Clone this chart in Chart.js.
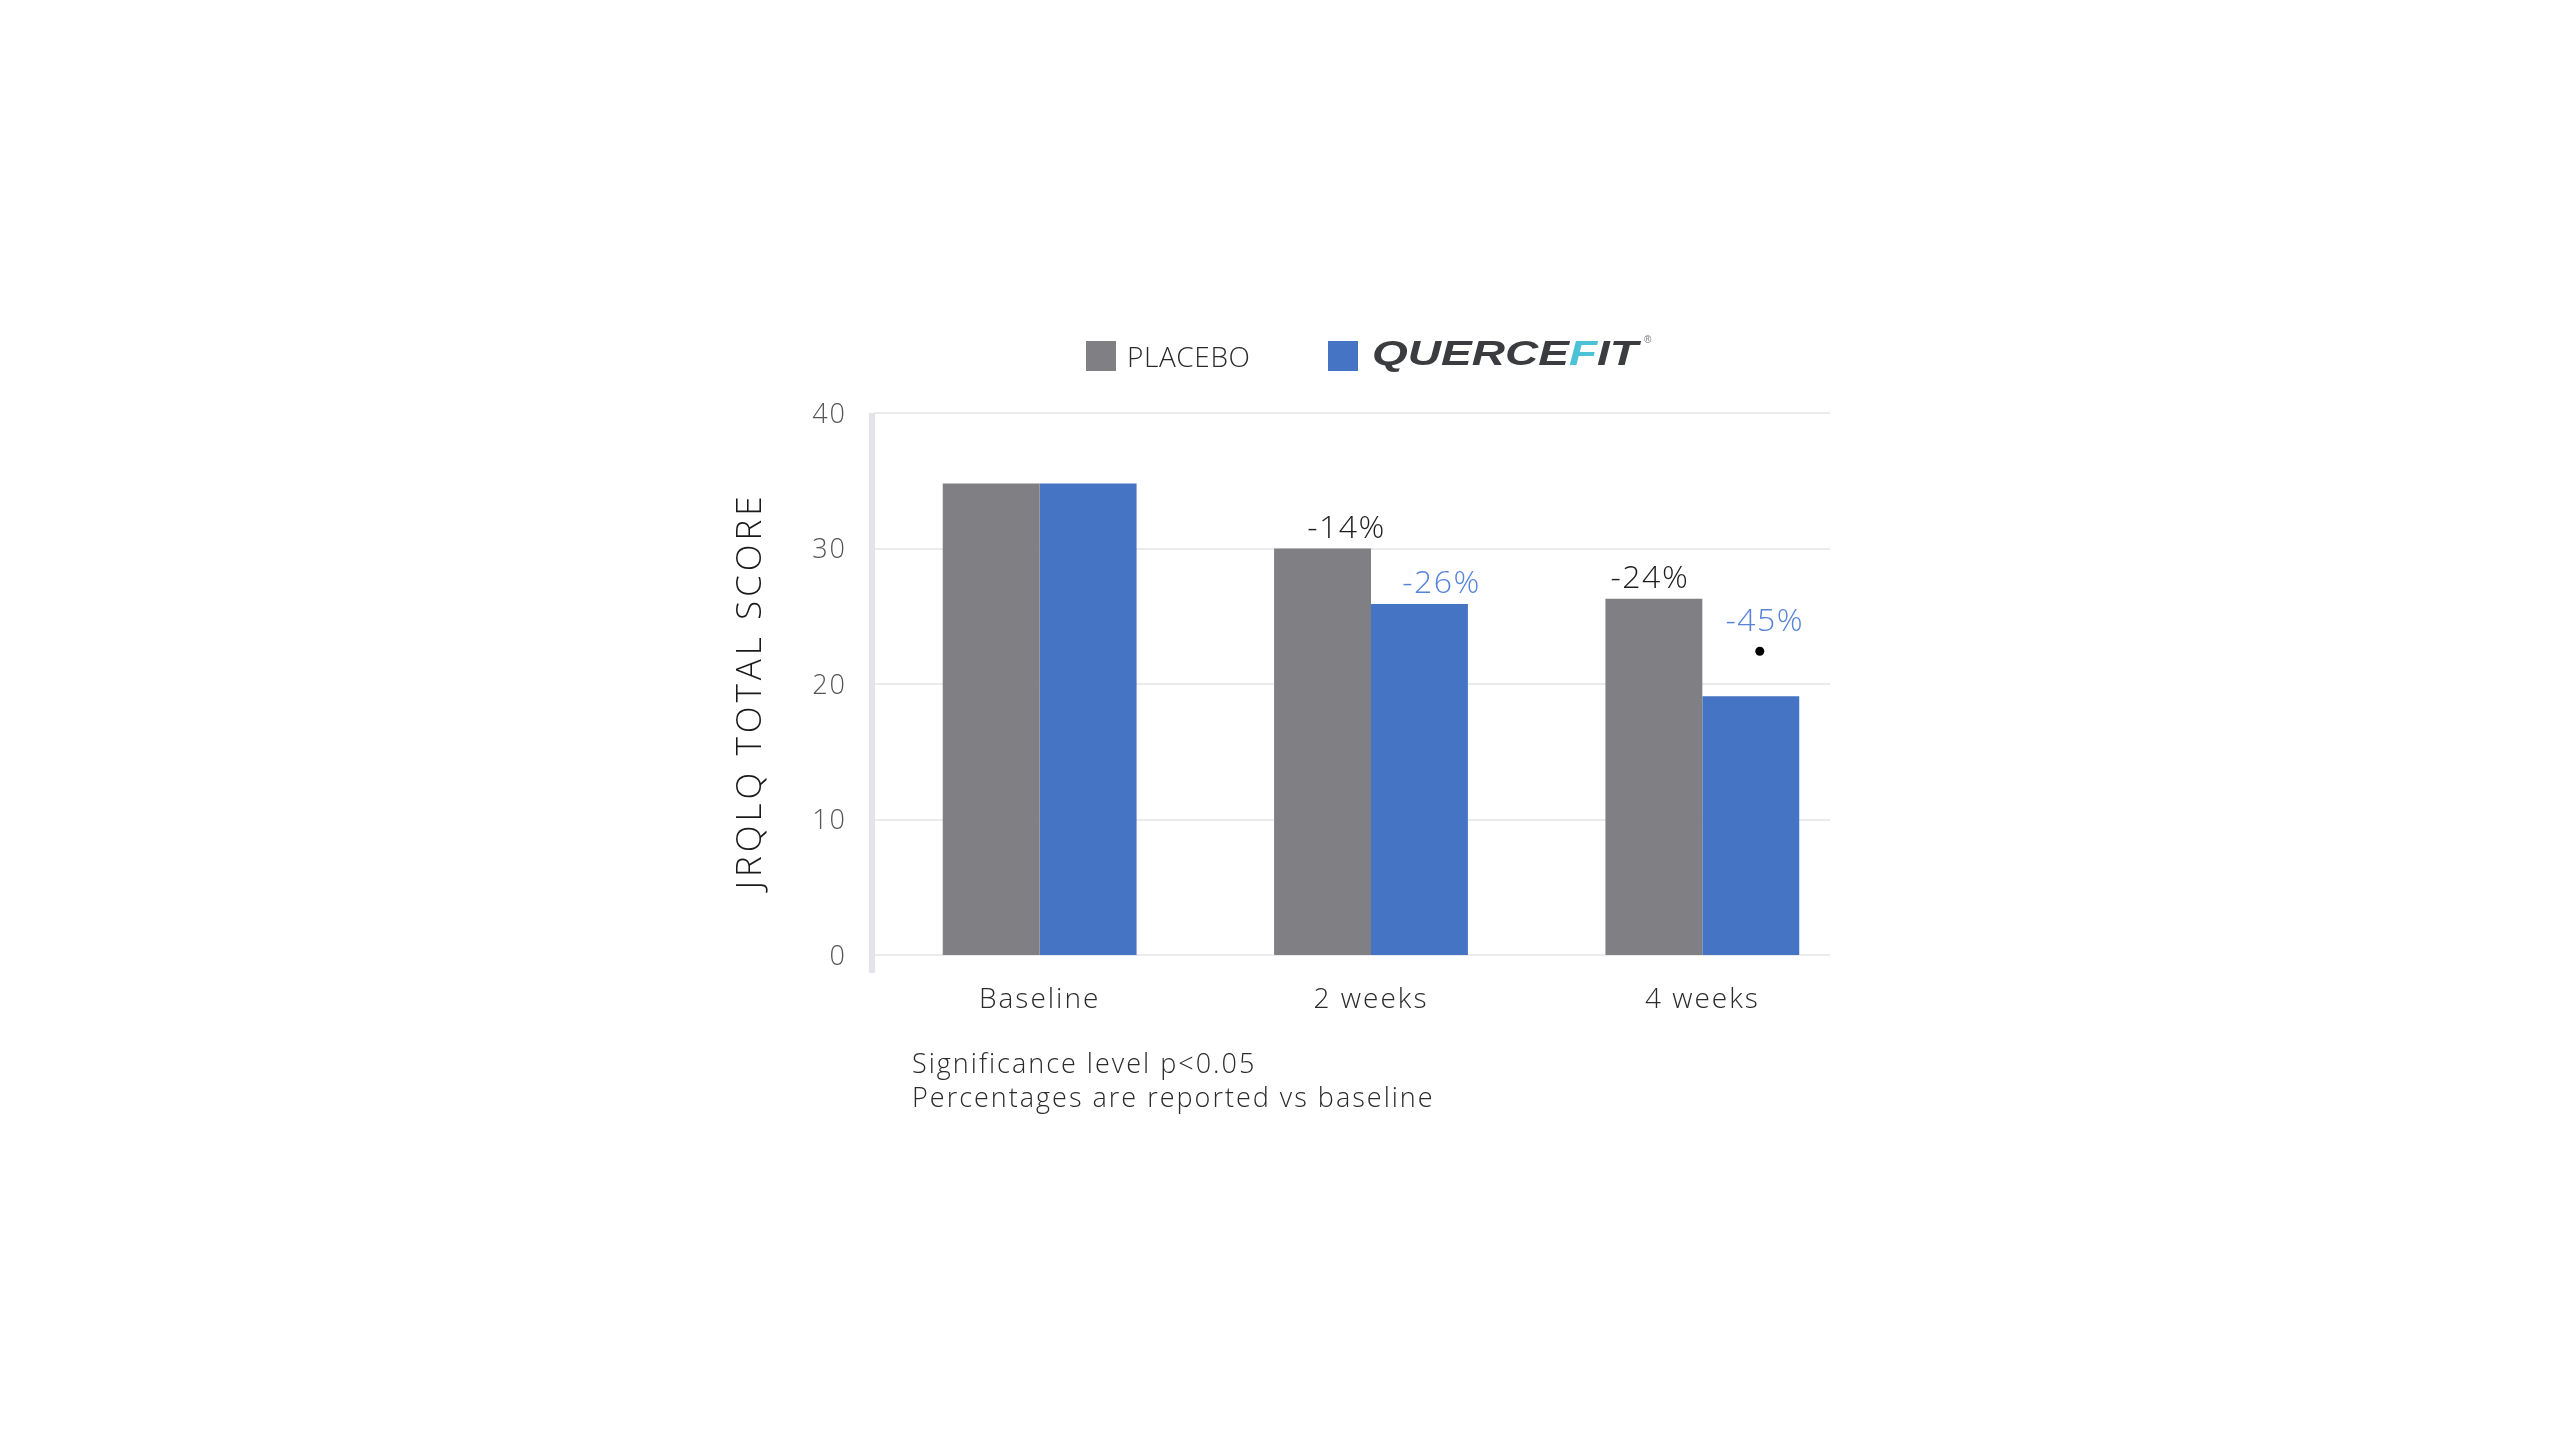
<!DOCTYPE html>
<html>
<head>
<meta charset="utf-8">
<script src="https://cdn.jsdelivr.net/npm/chart.js@4.4.1/dist/chart.umd.min.js"></script>
<style>
html,body{margin:0;padding:0;background:#fff;}
#wrap{position:relative;width:2560px;height:1440px;overflow:hidden;}
#c{position:absolute;left:0;top:0;}
.box{position:absolute;width:30px;height:30px;}
.ltxt{position:absolute;font-family:"Open Sans",sans-serif;font-weight:300;color:#2b2b2b;white-space:nowrap;letter-spacing:0.6px;}
#logo{position:absolute;font-family:"Liberation Sans",Arial,sans-serif;font-weight:700;font-style:italic;color:#3b3c3f;white-space:nowrap;transform-origin:0 0;}
#logo .f{color:#4bc2d5;}
#reg{position:absolute;font-family:"Liberation Sans",Arial,sans-serif;font-size:10px;color:#777;}
#note{position:absolute;left:912px;top:1046px;font-family:"Open Sans",sans-serif;font-weight:300;font-size:27px;line-height:34px;letter-spacing:2px;color:#2b2b2b;white-space:nowrap;}
</style>
</head>
<body>
<div id="wrap">
<canvas id="c" width="2560" height="1440"></canvas>
<div class="box" style="left:1086px;top:341px;background:#808084;"></div>
<div class="ltxt" style="left:1127px;top:336px;font-size:28px;line-height:40px;">PLACEBO</div>
<div class="box" style="left:1328px;top:341px;background:#4674c5;"></div>
<div id="logo" style="left:1372px;top:333px;font-size:35px;line-height:40px;">QUERCE<span class="f">F</span>IT</div>
<div id="reg" style="left:1644px;top:334px;">®</div>
<div id="note">Significance level p&lt;0.05<br>Percentages are reported vs baseline</div>
</div>
<script>
// ---- data ----
const categories = ['Baseline', '2 weeks', '4 weeks'];
const placeboValues = [34.8, 30.0, 26.3];
const quercefitValues = [34.8, 25.9, 19.1];
const placeboChange = [null, '-14%', '-24%'];
const quercefitChange = [null, '-26%', '-45%'];
const quercefitSignificant = [false, false, true];
const yTickValues = [0, 10, 20, 30, 40];
const seriesNames = ['PLACEBO', 'QUERCEFIT'];
const yAxisTitle = 'JRQLQ TOTAL SCORE';

// ---- styles ----
const placeboColor = '#808084';
const quercefitColor = '#4674c5';
const labelColors = ['#1e1e1e', '#5583d8'];
const labelShiftX = [[0, 24, -4], [0, 22, 14]];

// stretch the logo text to match the wordmark width
(function(){
  const logo = document.getElementById('logo');
  const w = logo.getBoundingClientRect().width;
  logo.style.transform = 'scaleX(' + (266 / w) + ')';
})();

Chart.defaults.font.family = '"Open Sans", sans-serif';

const decor = {
  id: 'decor',
  beforeDraw(chart) {
    chart.ctx.letterSpacing = '2px';
  },
  beforeDatasetsDraw(chart) {
    const {ctx, chartArea, scales} = chart;
    const y = scales.y;
    ctx.save();
    ctx.strokeStyle = '#ebebeb';
    ctx.lineWidth = 2;
    yTickValues.forEach(v => {
      const py = Math.round(y.getPixelForValue(v));
      ctx.beginPath();
      ctx.moveTo(chartArea.left, py);
      ctx.lineTo(chartArea.right - 38, py);
      ctx.stroke();
    });
    ctx.strokeStyle = '#e3e4e8';
    ctx.lineWidth = 6;
    ctx.beginPath();
    ctx.moveTo(chartArea.left - 2, chartArea.top);
    ctx.lineTo(chartArea.left - 2, chartArea.bottom + 18);
    ctx.stroke();
    ctx.restore();
  },
  afterDatasetsDraw(chart) {
    const {ctx} = chart;
    const changes = [placeboChange, quercefitChange];
    ctx.save();
    ctx.font = '300 32px "Open Sans", sans-serif';
    ctx.letterSpacing = '1.5px';
    ctx.textAlign = 'center';
    ctx.textBaseline = 'alphabetic';
    [0, 1].forEach(di => {
      const meta = chart.getDatasetMeta(di);
      meta.data.forEach((bar, i) => {
        const txt = changes[di][i];
        if (!txt) return;
        let y = bar.y - 11;
        const x = bar.x + labelShiftX[di][i];
        if (di === 1 && quercefitSignificant[i]) {
          ctx.fillStyle = '#000';
          ctx.beginPath();
          ctx.arc(bar.x + 9, bar.y - 45, 4.5, 0, Math.PI * 2);
          ctx.fill();
          y = bar.y - 65;
        }
        ctx.fillStyle = labelColors[di];
        ctx.fillText(txt, x, y);
      });
    });
    ctx.restore();
  },
  afterDraw(chart) {
    const {ctx, chartArea, scales} = chart;
    const y = scales.y;
    ctx.save();
    ctx.font = '300 35px "Open Sans", sans-serif';
    ctx.letterSpacing = '4px';
    ctx.fillStyle = '#1a1a1a';
    ctx.textAlign = 'center';
    ctx.textBaseline = 'middle';
    ctx.translate(y.left + 20, (chartArea.top + chartArea.bottom) / 2 + 7);
    ctx.rotate(-Math.PI / 2);
    ctx.fillText(yAxisTitle, 0, 0);
    ctx.restore();
  }
};

new Chart(document.getElementById('c'), {
  type: 'bar',
  data: {
    labels: categories,
    datasets: [
      {label: seriesNames[0], data: placeboValues, backgroundColor: placeboColor, barPercentage: 1, categoryPercentage: 0.585},
      {label: seriesNames[1], data: quercefitValues, backgroundColor: quercefitColor, barPercentage: 1, categoryPercentage: 0.585}
    ]
  },
  options: {
    responsive: false,
    devicePixelRatio: 1,
    animation: false,
    layout: {padding: {left: 731, right: 692, top: 413, bottom: 405}},
    plugins: {legend: {display: false}, tooltip: {enabled: false}},
    scales: {
      x: {
        grid: {display: false},
        border: {display: false},
        ticks: {color: '#2b2b2b', font: {size: 28, weight: '300'}, padding: 20},
        afterFit(s) { s.height = 80; }
      },
      y: {
        min: 0, max: 40,
        afterBuildTicks(s) { s.ticks = yTickValues.map(v => ({value: v})); },
        grid: {display: false, drawTicks: false},
        border: {display: false},
        ticks: {color: '#555', font: {size: 27, weight: '300'}, padding: 27, labelOffset: 2},
        afterFit(s) { s.width = 143; }
      }
    }
  },
  plugins: [decor]
});
</script>
</body>
</html>
